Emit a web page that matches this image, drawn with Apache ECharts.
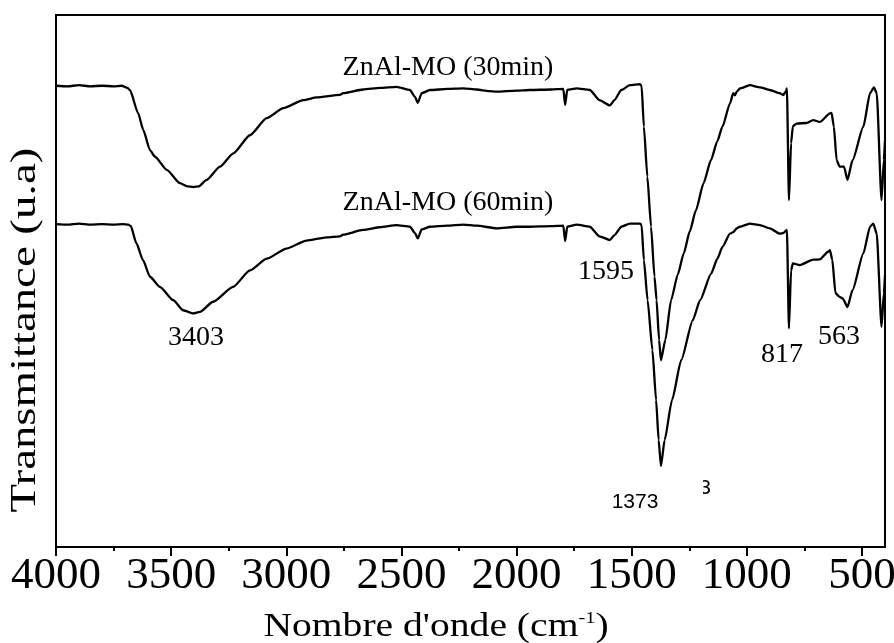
<!DOCTYPE html>
<html>
<head>
<meta charset="utf-8">
<script src="https://cdn.jsdelivr.net/npm/echarts@6/dist/echarts.min.js"></script>
<style>
  html, body { margin: 0; padding: 0; background: #fff; }
  #chart { width: 894px; height: 643px; }
</style>
</head>
<body>
<div id="chart"></div>
<script>
// FTIR spectra of ZnAl-MO after 30 min and 60 min (wavenumber in cm-1, transmittance in arbitrary units)
const wavenumbers30 = [4000, 3950, 3900, 3850, 3800, 3750, 3715, 3690, 3679, 3643, 3621, 3592, 3571, 3519, 3462, 3430, 3403, 3380, 3346, 3288, 3230, 3158, 3085, 3013, 2926, 2868, 2767, 2753, 2666, 2593, 2521, 2463, 2441, 2429, 2412, 2376, 2300, 2231, 2173, 2120, 2086, 2000, 1942, 1850, 1797, 1789, 1780, 1739, 1682, 1640, 1595, 1575, 1545, 1508, 1464, 1457, 1447, 1432, 1416, 1401, 1392, 1381, 1373, 1354, 1329, 1300, 1274, 1248, 1221, 1188, 1156, 1128, 1106, 1073, 1059, 1052, 1044, 1030, 987, 943, 900, 857, 842, 830, 826, 817, 808, 800, 784, 740, 712, 683, 639, 632, 622, 610, 597, 578, 563, 541, 494, 465, 448, 436, 415, 405, 400];
const transmittance30 = [86.7, 86.6, 86.8, 86.6, 86.7, 86.6, 86.7, 86.3, 85.9, 81.5, 78.4, 74.6, 73.4, 70.9, 68.4, 67.8, 67.65, 67.8, 69.0, 71.5, 74.0, 77.4, 80.6, 82.5, 84.0, 84.5, 85.0, 85.3, 86.0, 86.3, 86.5, 85.9, 84.6, 83.5, 85.3, 85.9, 86.1, 86.2, 86.0, 85.7, 85.6, 85.8, 85.9, 86.0, 86.1, 83.1, 85.9, 86.2, 85.9, 84.0, 83.0, 84.0, 85.9, 86.8, 87.0, 86.65, 79.0, 69.6, 60.2, 50.8, 46.4, 38.9, 35.1, 38.9, 46.4, 51.2, 55.2, 59.3, 63.3, 68.4, 72.7, 76.3, 79.0, 83.4, 85.3, 84.9, 85.6, 86.2, 86.8, 86.4, 85.9, 85.3, 84.95, 85.7, 86.2, 65.2, 75.9, 79.1, 79.6, 79.7, 80.25, 79.9, 81.5, 81.6, 79.0, 72.7, 71.5, 71.5, 69.0, 72.7, 79.0, 85.3, 86.4, 85.3, 65.2, 72.7, 76.5];

const wavenumbers60 = [4000, 3950, 3900, 3850, 3800, 3750, 3710, 3686, 3675, 3651, 3622, 3592, 3549, 3491, 3448, 3403, 3375, 3318, 3231, 3158, 3085, 2999, 2912, 2825, 2767, 2753, 2666, 2593, 2521, 2463, 2441, 2429, 2412, 2376, 2300, 2231, 2173, 2086, 2000, 1942, 1850, 1797, 1789, 1780, 1739, 1682, 1640, 1595, 1575, 1545, 1508, 1464, 1457, 1447, 1431, 1410, 1394, 1383, 1373, 1357, 1325, 1285, 1235, 1203, 1155, 1128, 1106, 1073, 1059, 1044, 1030, 987, 943, 900, 857, 842, 826, 817, 808, 800, 770, 712, 683, 647, 639, 629, 615, 597, 583, 563, 541, 494, 465, 451, 436, 415, 405, 400];
const transmittance60 = [60.7, 60.6, 60.8, 60.6, 60.7, 60.6, 60.7, 60.6, 60.3, 57.1, 53.9, 50.8, 48.9, 46.4, 44.5, 43.9, 44.2, 46.1, 48.9, 52.0, 54.2, 56.1, 57.6, 58.2, 58.4, 58.7, 59.6, 60.1, 60.5, 60.2, 59.0, 58.0, 59.7, 60.2, 60.4, 60.6, 60.4, 59.9, 60.2, 60.2, 60.3, 60.4, 57.5, 60.2, 60.6, 60.2, 58.4, 57.7, 58.6, 60.2, 60.8, 60.8, 60.5, 53.9, 46.4, 37.0, 27.6, 20.1, 15.2, 20.1, 27.6, 35.1, 42.6, 46.4, 51.4, 54.2, 56.4, 58.9, 59.2, 59.9, 60.2, 60.8, 60.5, 59.9, 58.9, 59.0, 59.6, 41.1, 52.0, 53.3, 53.0, 54.0, 54.05, 55.5, 55.8, 54.0, 47.7, 47.0, 46.7, 45.1, 48.3, 55.2, 60.2, 60.8, 58.9, 41.4, 47.7, 51.1];

const majorTicks = [4000, 3500, 3000, 2500, 2000, 1500, 1000, 500];
const minorTicks = [3750, 3250, 2750, 2250, 1750, 1250, 750];
const seriesNames = ['ZnAl-MO (30min)', 'ZnAl-MO (60min)'];
const bandLabels = ['3403', '1595', '817', '563', '1373', '3'];
const xTitle = "Nombre d'onde (cm{sup|-1})";
const yTitle = 'Transmittance (u.a)';

const serif = 'Liberation Serif';
const black = '#000';

const chart = echarts.init(document.getElementById('chart'), null, { renderer: 'canvas' });

function pairs(xs, ys) {
  return xs.map((x, i) => [x, ys[i]]);
}

function spectrum(name, xs, ys) {
  return {
    name: name,
    type: 'line',
    data: pairs(xs, ys),
    showSymbol: false,
    smooth: 0.2,
    smoothMonotone: 'x',
    lineStyle: { color: black, width: 2.3 },
    emphasis: { disabled: true },
    silent: true,
    z: 3
  };
}

function serifText(text, x, y, size) {
  return {
    type: 'text', x: x, y: y, silent: true,
    style: { text: text, fill: black, font: size + 'px "' + serif + '"', align: 'center', verticalAlign: 'middle' }
  };
}

const option = {
  animation: false,
  backgroundColor: '#fff',
  grid: {
    left: 56, right: 9, top: 15, bottom: 96,
    show: true, borderColor: black, borderWidth: 2, backgroundColor: 'transparent',
    outerBoundsMode: 'none'
  },
  xAxis: [
    {
      type: 'value', min: 400, max: 4000, inverse: true, position: 'bottom',
      axisLine: { show: true, onZero: false, lineStyle: { color: black, width: 2 } },
      axisTick: { show: true, inside: false, length: 9, customValues: majorTicks, lineStyle: { color: black, width: 2 } },
      axisLabel: {
        show: true, customValues: majorTicks, showMinLabel: true, showMaxLabel: true,
        formatter: v => String(v),
        color: black, fontFamily: serif, fontSize: 45, margin: 7
      },
      splitLine: { show: false },
      minorTick: { show: false }
    },
    {
      type: 'value', min: 400, max: 4000, inverse: true, position: 'bottom',
      axisLine: { show: false },
      axisTick: { show: true, inside: false, length: 4, customValues: minorTicks, lineStyle: { color: black, width: 2 } },
      axisLabel: { show: false },
      splitLine: { show: false }
    }
  ],
  yAxis: {
    type: 'value', min: 0, max: 100,
    axisLine: { show: true, onZero: false, lineStyle: { color: black, width: 2 } },
    axisTick: { show: false },
    axisLabel: { show: false },
    splitLine: { show: false }
  },
  series: [
    spectrum(seriesNames[0], wavenumbers30, transmittance30),
    spectrum(seriesNames[1], wavenumbers60, transmittance60)
  ],
  graphic: [
    // axis titles
    {
      type: 'text', x: 436, y: 627, silent: true, scaleX: 1.2,
      style: {
        text: xTitle, fill: black, font: '33px "' + serif + '"', align: 'center', verticalAlign: 'middle',
        rich: { sup: { fill: black, font: '17px "' + serif + '"', padding: [0, 0, 16, 0] } }
      }
    },
    {
      type: 'text', x: 26, y: 330, rotation: Math.PI / 2, scaleX: 1.3, silent: true,
      style: { text: yTitle, fill: black, font: '36px "' + serif + '"', align: 'center', verticalAlign: 'middle' }
    },
    // series names and band positions
    serifText(seriesNames[0], 448, 68, 28),
    serifText(seriesNames[1], 448, 203, 28),
    serifText(bandLabels[0], 196, 338, 28),
    serifText(bandLabels[1], 606, 272, 28),
    serifText(bandLabels[2], 782, 355, 28),
    serifText(bandLabels[3], 839, 337, 28),
    {
      type: 'text', x: 635, y: 502, silent: true,
      style: { text: bandLabels[4], fill: black, font: '21px "Liberation Sans"', align: 'center', verticalAlign: 'middle' }
    },
    {
      type: 'text', x: 705, y: 488, silent: true, z: 10,
      style: { text: bandLabels[5], fill: black, font: '21px "Liberation Sans"', align: 'center', verticalAlign: 'middle' }
    },
    {
      type: 'rect', silent: true, z: 11,
      shape: { x: 696, y: 476, width: 7, height: 24 },
      style: { fill: '#fff' }
    }
  ]
};

chart.setOption(option);
</script>
</body>
</html>
